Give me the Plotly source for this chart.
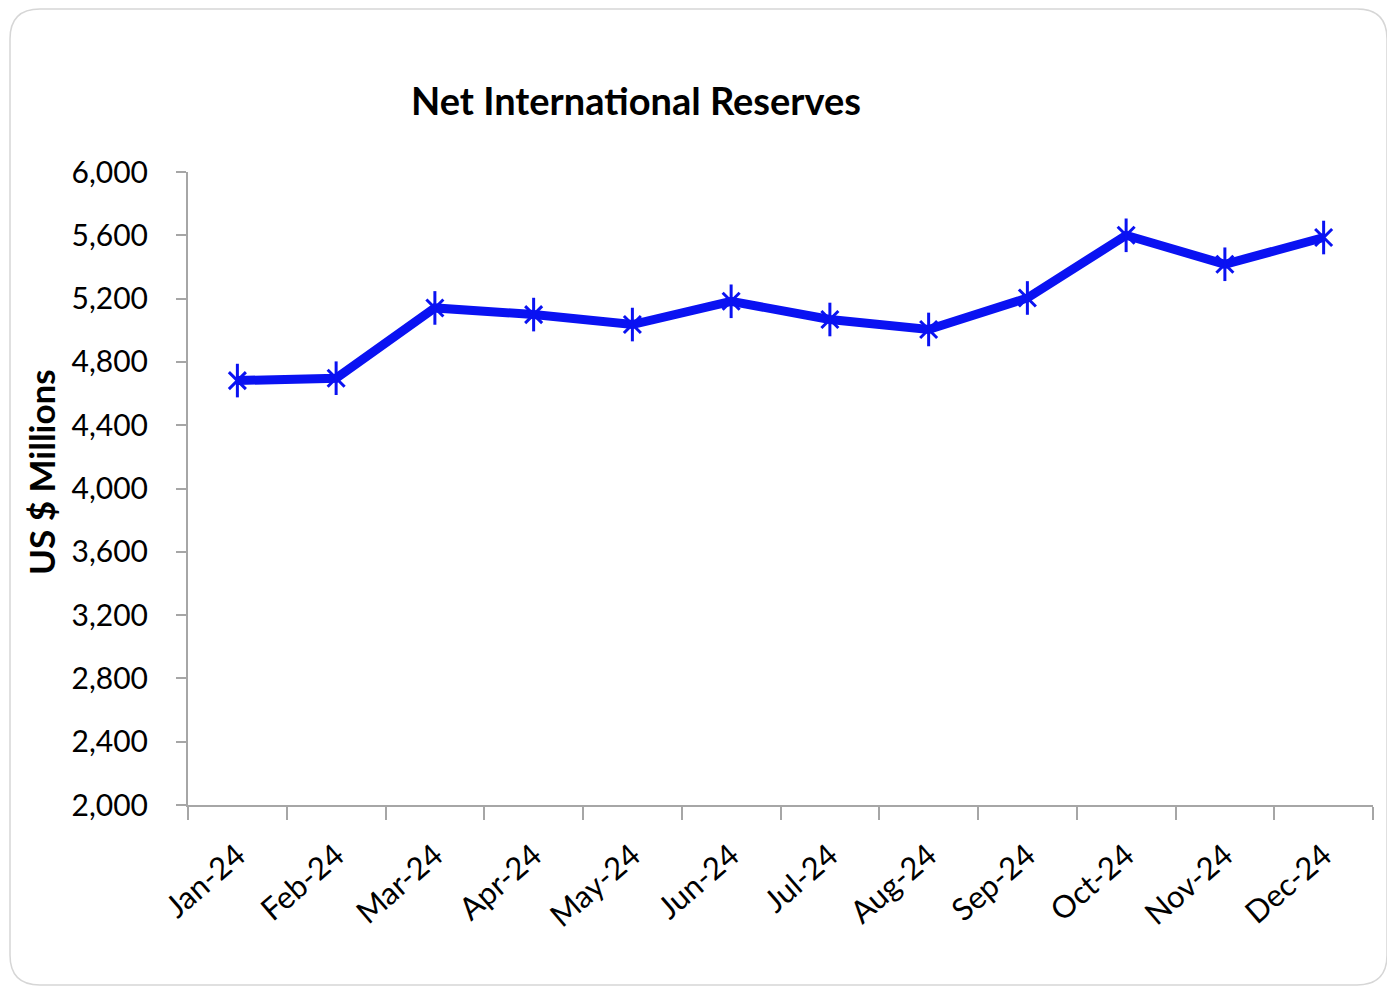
import plotly.graph_objects as go

months = ["Jan-24", "Feb-24", "Mar-24", "Apr-24", "May-24", "Jun-24",
          "Jul-24", "Aug-24", "Sep-24", "Oct-24", "Nov-24", "Dec-24"]
reserves = [4682, 4697, 5141, 5099, 5036, 5183, 5068, 5005, 5204, 5600, 5417, 5586]
y_ticks = [2000, 2400, 2800, 3200, 3600, 4000, 4400, 4800, 5200, 5600, 6000]

OFF = 8  # page body margin
W, H = 1395 - OFF, 988 - OFF
L, R, T, B = 188 - OFF, 22, 172 - OFF, 183
pw, ph = W - L - R, H - T - B

def px(x):
    return (x - OFF - L) / pw

def py(y):
    return (H - B - (y - OFF)) / ph

# rounded card border in paper coords (page pixel inputs)
x0, x1, y0, y1, r = 10, 1387, 9, 985, 30
rx, ry = r / pw, r / ph
path = (
    f"M {px(x0)+rx},{py(y0)} L {px(x1)-rx},{py(y0)} "
    f"Q {px(x1)},{py(y0)} {px(x1)},{py(y0)-ry} "
    f"L {px(x1)},{py(y1)+ry} Q {px(x1)},{py(y1)} {px(x1)-rx},{py(y1)} "
    f"L {px(x0)+rx},{py(y1)} Q {px(x0)},{py(y1)} {px(x0)},{py(y1)+ry} "
    f"L {px(x0)},{py(y0)-ry} Q {px(x0)},{py(y0)} {px(x0)+rx},{py(y0)} Z"
)

blue = "#0a12f2"
fig = go.Figure()
fig.add_trace(go.Scatter(
    x=months, y=reserves, mode="lines",
    line=dict(color=blue, width=9), showlegend=False, hoverinfo="skip",
))
fig.add_trace(go.Scatter(
    x=months, y=reserves, mode="markers",
    marker=dict(symbol="x-thin-open", size=17, color=blue,
                line=dict(color=blue, width=3)),
    showlegend=False, hoverinfo="skip",
))
fig.add_trace(go.Scatter(
    x=months, y=reserves, mode="markers",
    marker=dict(symbol="line-ns-open", size=24, color=blue,
                line=dict(color=blue, width=3)),
    showlegend=False,
))

font = "Lato, 'Open Sans', sans-serif"
fig.update_layout(
    width=W, height=H,
    margin=dict(l=L, r=R, t=T, b=B),
    paper_bgcolor="white", plot_bgcolor="white",
    font=dict(family=font, color="black"),
    shapes=[dict(type="path", xref="paper", yref="paper", path=path,
                 line=dict(color="#d6d6d6", width=1.5), layer="below")],
    annotations=[
        dict(text="<b>Net International Reserves</b>", xref="paper", yref="paper",
             x=px(636), y=py(100), showarrow=False, xanchor="center", yanchor="middle",
             font=dict(size=38, family=font, color="black")),
        dict(text="<b>US $ Millions</b>", xref="paper", yref="paper",
             x=px(41), y=py(472), showarrow=False, textangle=-90,
             xanchor="center", yanchor="middle",
             font=dict(size=35, family=font, color="black")),
    ],
)
fig.update_xaxes(
    type="category", range=[-0.5, 11.5], tickson="boundaries",
    ticks="outside", ticklen=13, tickcolor="#a6a6a6", tickwidth=2,
    showline=True, linecolor="#a6a6a6", linewidth=2,
    showgrid=False, zeroline=False, tickangle=-41, ticklabelstandoff=18,
    tickfont=dict(size=31, family=font, color="black"),
)
fig.update_yaxes(
    range=[2000, 6000], tickvals=y_ticks, tickformat=",",
    ticks="outside", ticklen=10, tickcolor="#a6a6a6", tickwidth=2,
    showline=True, linecolor="#a6a6a6", linewidth=2,
    showgrid=False, zeroline=False, ticklabelstandoff=22,
    tickfont=dict(size=30, family=font, color="black"),
)

fig.write_html("out.html")
